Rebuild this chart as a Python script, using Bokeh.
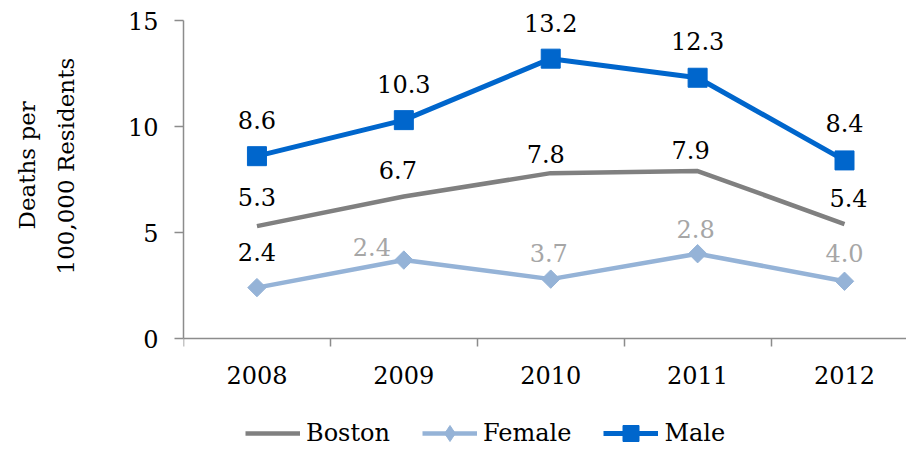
from bokeh.plotting import figure
from bokeh.models import FixedTicker, Legend, LegendItem, Range1d, Title
from bokeh.core.properties import value
from bokeh.embed import file_html
from bokeh.resources import INLINE
import numpy as np

# ---- data ----
years = ["2008", "2009", "2010", "2011", "2012"]
boston = [5.3, 6.7, 7.8, 7.9, 5.4]
female = [2.4, 3.7, 2.8, 4.0, 2.7]
male = [8.6, 10.3, 13.2, 12.3, 8.4]
boston_labels = ["5.3", "6.7", "7.8", "7.9", "5.4"]
female_labels = ["2.4", "2.4", "3.7", "2.8", "4.0"]
male_labels = ["8.6", "10.3", "13.2", "12.3", "8.4"]
y_ticks = [0, 5, 10, 15]
y_min, y_max = 0, 15
y_title_lines = ["Deaths per", "100,000 Residents"]

# ---- styles / layout ----
FONT = "DejaVu Serif"
FS = "24px"
C_BOSTON = "#808080"
C_FEMALE = "#95B3D7"
C_MALE = "#0066CC"
AXIS_C = "#8C8C8C"
LBL_SHIFT = -9
boston_dy = [d + LBL_SHIFT for d in [-20, -17, -10, -12, -17]]
boston_dx = [0, -6, -5, -7, 4]
male_dy = [d + LBL_SHIFT for d in [-27, -27, -27, -28, -28]]
female_dy = [d + LBL_SHIFT for d in [-27, -4, -17, -16, -19]]
female_dx = [0, -32, -2, -2, 0]
female_label_colors = ["#000000", "#A6A6A6", "#A6A6A6", "#A6A6A6", "#A6A6A6"]

W, H = 906, 448
TOP, LEFT = 2, 180
AXIS_TOP = 20                       # pixel row of the value 15
AXIS_PX = 318                       # pixel height of the 0..15 span
CAT_PX = 147.5                      # pixel width of one category
px_per_unit = AXIS_PX / (y_max - y_min)
y_top = y_max + (AXIS_TOP - TOP) / px_per_unit
y_start = y_max - (H - AXIS_TOP) / px_per_unit
x_end = -0.5 + (W - LEFT) / CAT_PX

xs = list(range(len(years)))

p = figure(width=W, height=H,
           x_range=Range1d(-0.5, x_end), y_range=Range1d(y_start, y_top),
           output_backend="svg", toolbar_location=None,
           min_border_left=LEFT, min_border_right=0,
           min_border_top=TOP, min_border_bottom=0)
p.outline_line_color = None
p.xgrid.grid_line_color = None
p.ygrid.grid_line_color = None
p.background_fill_color = "white"
p.border_fill_color = "white"

# y axis
yax = p.yaxis[0]
yax.ticker = FixedTicker(ticks=y_ticks)
yax.bounds = (y_min, y_max)
yax.axis_line_color = AXIS_C
yax.axis_line_width = 1.5
yax.major_tick_line_color = AXIS_C
yax.major_tick_line_width = 1.5
yax.major_tick_out = 9
yax.major_tick_in = 0
yax.minor_tick_line_color = None
yax.major_label_text_font = FONT
yax.major_label_text_font_size = FS
yax.major_label_text_color = "black"
yax.major_label_standoff = 16
# blank spacer label keeps the title lines clear of the tick labels
yax.axis_label = "\u00a0"
yax.axis_label_text_font_size = "10px"
yax.axis_label_standoff = 32

# y title: two centred lines placed along the 0..15 span
TFS = "23px"
t1 = Title(text=y_title_lines[1], align="left", vertical_align="bottom",
           offset=174, standoff=0, text_font=FONT, text_font_size=TFS,
           text_font_style="normal", text_color="black")
t2 = Title(text=y_title_lines[0], align="left", vertical_align="bottom",
           offset=219, standoff=22, text_font=FONT, text_font_size=TFS,
           text_font_style="normal", text_color="black")
p.add_layout(t1, "left")
p.add_layout(t2, "left")

# x axis (drawn at y = 0)
xax = p.xaxis[0]
xax.fixed_location = 0
xax.ticker = FixedTicker(ticks=xs, minor_ticks=[i - 0.5 for i in xs])
xax.major_label_overrides = {i: y for i, y in zip(xs, years)}
xax.axis_line_color = AXIS_C
xax.axis_line_width = 1.5
xax.major_tick_line_color = None
xax.major_tick_out = 0
xax.major_tick_in = 0
xax.minor_tick_line_color = AXIS_C
xax.minor_tick_line_width = 1.5
xax.minor_tick_out = 8
xax.minor_tick_in = 0
xax.major_label_text_font = FONT
xax.major_label_text_font_size = FS
xax.major_label_text_color = "black"
xax.major_label_standoff = 19

# series
b_line = p.line(xs, boston, line_color=C_BOSTON, line_width=4.5)
f_line = p.line(xs, female, line_color=C_FEMALE, line_width=4.5)
f_mark = p.scatter(xs, female, marker="square", angle=np.pi / 4, size=13,
                   fill_color=C_FEMALE, line_color=C_FEMALE)
m_line = p.line(xs, male, line_color=C_MALE, line_width=5)
m_mark = p.scatter(xs, male, marker="square", size=19,
                   fill_color=C_MALE, line_color=C_MALE)
# legend-only diamond symbol (no points of its own in the plot)
f_key = p.scatter([float("nan")], [float("nan")], marker="diamond", size=18,
                  fill_color=C_FEMALE, line_color=C_FEMALE)

# data labels
common = dict(text_font=value(FONT), text_font_size=FS, text_align="center",
              text_baseline="alphabetic")
p.text(xs, boston, text=boston_labels, x_offset=boston_dx, y_offset=boston_dy,
       text_color="black", **common)
p.text(xs, male, text=male_labels, y_offset=male_dy, text_color="black", **common)
p.text(xs, female, text=female_labels, x_offset=female_dx, y_offset=female_dy,
       text_color=female_label_colors, **common)

legend = Legend(items=[LegendItem(label="Boston", renderers=[b_line]),
                       LegendItem(label="Female", renderers=[f_line, f_key]),
                       LegendItem(label="Male", renderers=[m_line, m_mark])],
                orientation="horizontal", location=(62, -5),
                label_text_font=FONT, label_text_font_size=FS,
                label_text_color="black",
                glyph_width=55, glyph_height=40, label_standoff=6, spacing=32,
                padding=0, margin=0, border_line_color=None,
                background_fill_alpha=0)
p.add_layout(legend, "center")

open("out.html", "w").write(file_html(p, INLINE))
